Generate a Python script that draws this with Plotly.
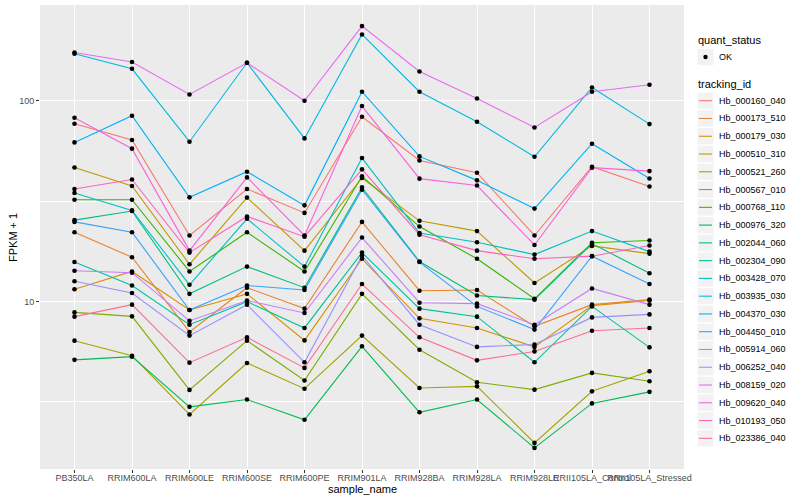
import numpy as np
import plotly.graph_objects as go

samples = ["PB350LA", "RRIM600LA", "RRIM600LE", "RRIM600SE", "RRIM600PE", "RRIM901LA",
           "RRIM928BA", "RRIM928LA", "RRIM928LE", "RRII105LA_Control", "RRII105LA_Stressed"]

# FPKM + 1 values per tracking_id
hb_000160_040 = [76.8, 63.7, 21.3, 36.3, 27.6, 83.2, 50.4, 43.8, 21.3, 46.9, 37.4]
hb_000173_510 = [22.1, 16.6, 7.04, 11.7, 9.20, 24.9, 11.3, 11.4, 7.51, 9.63, 10.2]
hb_000179_030 = [11.5, 14.1, 9.06, 10.9, 6.39, 16.3, 8.23, 7.37, 5.93, 9.52, 10.1]
hb_000510_310 = [46.5, 37.6, 15.3, 32.9, 17.9, 41.2, 25.2, 22.4, 12.35, 18.9, 17.3]
hb_000521_260 = [6.37, 5.36, 2.73, 4.93, 3.67, 6.75, 3.70, 3.77, 1.97, 3.56, 4.48]
hb_000567_010 = [8.81, 8.42, 3.62, 6.37, 4.03, 10.9, 5.74, 3.95, 3.63, 4.40, 4.00]
hb_000768_110 = [32.1, 32.1, 14.1, 22.1, 14.1, 42.0, 23.6, 16.3, 10.3, 19.6, 20.1]
hb_000976_320 = [5.11, 5.30, 2.98, 3.24, 2.57, 5.97, 2.80, 3.24, 1.86, 3.10, 3.54]
hb_002044_060 = [25.4, 28.2, 10.9, 14.9, 11.7, 37.0, 15.8, 10.7, 10.2, 19.4, 13.8]
hb_002304_090 = [15.7, 12.0, 7.65, 9.97, 7.37, 17.5, 9.20, 8.39, 4.97, 9.44, 5.90]
hb_003428_070 = [34.7, 28.4, 12.1, 25.8, 14.9, 51.8, 21.9, 19.7, 17.1, 22.4, 17.7]
hb_003935_030 = [171.5, 144.3, 62.5, 154.6, 64.9, 214.0, 110.9, 78.6, 52.6, 116.5, 76.5]
hb_004370_030 = [62.0, 84.2, 33.0, 44.3, 30.1, 110.9, 52.8, 40.1, 29.0, 61.1, 41.0]
hb_004450_010 = [24.9, 22.1, 9.06, 12.0, 11.4, 36.0, 15.7, 9.44, 7.23, 16.8, 12.2]
hb_005914_060 = [12.6, 11.0, 6.75, 9.63, 4.97, 16.9, 7.65, 5.93, 6.09, 8.32, 8.61]
hb_006252_040 = [14.2, 13.9, 7.99, 10.1, 8.75, 20.8, 9.85, 9.74, 7.65, 11.6, 9.63]
hb_008159_020 = [174.1, 155.9, 107.5, 154.6, 100.0, 235.6, 140.0, 102.7, 73.6, 110.9, 120.2]
hb_009620_040 = [82.3, 57.7, 17.9, 41.5, 21.3, 94.1, 40.9, 37.8, 19.1, 46.4, 44.6]
hb_010193_050 = [36.3, 40.5, 17.5, 26.5, 21.0, 45.5, 21.5, 17.9, 16.3, 16.8, 19.0]
hb_023386_040 = [8.39, 9.63, 4.95, 6.62, 4.66, 12.2, 6.62, 5.08, 5.63, 7.14, 7.37]

tracking_ids = ["Hb_000160_040", "Hb_000173_510", "Hb_000179_030", "Hb_000510_310",
                "Hb_000521_260", "Hb_000567_010", "Hb_000768_110", "Hb_000976_320",
                "Hb_002044_060", "Hb_002304_090", "Hb_003428_070", "Hb_003935_030",
                "Hb_004370_030", "Hb_004450_010", "Hb_005914_060", "Hb_006252_040",
                "Hb_008159_020", "Hb_009620_040", "Hb_010193_050", "Hb_023386_040"]
series_values = [hb_000160_040, hb_000173_510, hb_000179_030, hb_000510_310,
                 hb_000521_260, hb_000567_010, hb_000768_110, hb_000976_320,
                 hb_002044_060, hb_002304_090, hb_003428_070, hb_003935_030,
                 hb_004370_030, hb_004450_010, hb_005914_060, hb_006252_040,
                 hb_008159_020, hb_009620_040, hb_010193_050, hb_023386_040]
colors = ["#F8766D", "#EA8331", "#D89000", "#C09B00", "#A3A500", "#7CAE00", "#39B600",
          "#00BB4E", "#00BF7D", "#00C1A3", "#00BFC4", "#00BAE0", "#00B0F6", "#35A2FF",
          "#9590FF", "#C77CFF", "#E76BF3", "#FA62DB", "#FF62BC", "#FF6C91"]
quant_status = ["OK"]

y_ticks = [10, 100]
y_minor = [10 ** 0.5, 10 ** 1.5, 10 ** 2.5]

W, H = 800, 500
L, R, T, B = 40, 116, 5, 31
PW, PH = W - L - R, H - T - B


def px(x):
    return (x - L) / PW


def py(y):
    return (H - B - y) / PH


fig = go.Figure()
for tid, vals, col in zip(tracking_ids, series_values, colors):
    fig.add_trace(go.Scatter(x=samples, y=vals, mode="lines", name=tid,
                             line=dict(color=col, width=1.1), showlegend=False))

all_x = [s for _ in series_values for s in samples]
all_y = [v for vals in series_values for v in vals]
fig.add_trace(go.Scatter(x=all_x, y=all_y, mode="markers", name=quant_status[0],
                         marker=dict(color="black", size=4.6, symbol="circle"),
                         showlegend=False))

lo = np.log10(min(all_y)); hi = np.log10(max(all_y)); pad = (hi - lo) * 0.05

shapes = []
annotations = []
txt_font = dict(family="Liberation Sans, Arial, sans-serif", size=9, color="black")
title_font = dict(family="Liberation Sans, Arial, sans-serif", size=11, color="black")

# axis titles
annotations.append(dict(text="sample_name", xref="paper", yref="paper", x=0.5, y=py(489),
                        xanchor="center", yanchor="middle", showarrow=False, font=title_font))
annotations.append(dict(text="FPKM + 1", xref="paper", yref="paper", x=px(13), y=0.5,
                        xanchor="center", yanchor="middle", showarrow=False, textangle=-90,
                        font=title_font))

# legend: quant_status
annotations.append(dict(text="quant_status", xref="paper", yref="paper", x=px(695.5), y=py(40),
                        xanchor="left", yanchor="middle", showarrow=False, font=title_font))
kx0, kx1 = 697.5, 713.5
for i, q in enumerate(quant_status):
    cy = 57 + 17.77 * i
    shapes.append(dict(type="rect", xref="paper", yref="paper", x0=px(kx0), x1=px(kx1),
                       y0=py(cy - 8.2), y1=py(cy + 8.2), fillcolor="#F2F2F2", line=dict(width=0)))
    shapes.append(dict(type="circle", xref="paper", yref="paper", x0=px(703.3), x1=px(707.7),
                       y0=py(cy - 2.2), y1=py(cy + 2.2), fillcolor="black", line=dict(width=0)))
    annotations.append(dict(text=q, xref="paper", yref="paper", x=px(716.5), y=py(cy),
                            xanchor="left", yanchor="middle", showarrow=False, font=txt_font))

# legend: tracking_id
annotations.append(dict(text="tracking_id", xref="paper", yref="paper", x=px(695.5), y=py(84.3),
                        xanchor="left", yanchor="middle", showarrow=False, font=title_font))
for i, (tid, col) in enumerate(zip(tracking_ids, colors)):
    cy = 100.7 + 17.77 * i
    shapes.append(dict(type="rect", xref="paper", yref="paper", x0=px(kx0), x1=px(kx1),
                       y0=py(cy - 8.2), y1=py(cy + 8.2), fillcolor="#F2F2F2", line=dict(width=0)))
    shapes.append(dict(type="line", xref="paper", yref="paper", x0=px(699), x1=px(712),
                       y0=py(cy), y1=py(cy), line=dict(color=col, width=1.1)))
    annotations.append(dict(text=tid, xref="paper", yref="paper", x=px(716.5), y=py(cy),
                            xanchor="left", yanchor="middle", showarrow=False, font=txt_font))

fig.update_layout(
    width=W, height=H,
    margin=dict(l=L, r=R, t=T, b=B, autoexpand=False),
    paper_bgcolor="white", plot_bgcolor="#EBEBEB",
    font=dict(family="Liberation Sans, Arial, sans-serif", size=9, color="black"),
    xaxis=dict(type="category", range=[-0.6, len(samples) - 0.4], tickangle=0,
               showgrid=True, gridcolor="white", gridwidth=1.1, zeroline=False,
               ticks="outside", ticklen=3, tickcolor="#333333", tickwidth=1,
               tickfont=dict(size=9, color="#4D4D4D"), automargin=False),
    yaxis=dict(type="log", range=[lo - pad, hi + pad], tickvals=y_ticks,
               ticktext=[str(t) for t in y_ticks],
               showgrid=True, gridcolor="white", gridwidth=1.1, zeroline=False,
               ticks="outside", ticklen=3, tickcolor="#333333", tickwidth=1,
               tickfont=dict(size=9, color="#4D4D4D"), automargin=False,
               minor=dict(tickvals=y_minor, showgrid=True, gridcolor="white",
                          gridwidth=0.55, ticks="")),
    showlegend=False,
    shapes=shapes,
    annotations=annotations,
)
try:
    fig.update_xaxes(ticklabelstandoff=-3)
except Exception:
    pass

fig.write_html("out.html", config={"displayModeBar": False},
               post_script="document.body.style.margin='0';document.body.style.padding='0';")
